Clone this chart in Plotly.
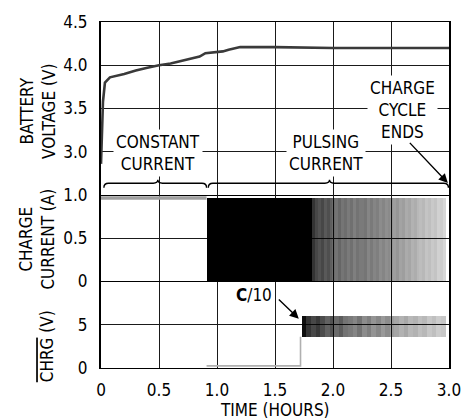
import plotly.graph_objects as go
from plotly.subplots import make_subplots

# ---------------- data ----------------
x_ticks = [0, 0.5, 1.0, 1.5, 2.0, 2.5, 3.0]
x_ticktext = ["0", "0.5", "1.0", "1.5", "2.0", "2.5", "3.0"]
volt_ticks = [3.0, 3.5, 4.0, 4.5]
volt_ticktext = ["3.0", "3.5", "4.0", "4.5"]
curr_ticks = [0, 0.5, 1.0]
curr_ticktext = ["0", "0.5", "1.0"]
chrg_ticks = [0, 5]
chrg_ticktext = ["0", "5"]

# battery voltage (hours, volts)
volt_t = [0, 0.008, 0.017, 0.034, 0.077, 0.2, 0.3, 0.4, 0.5, 0.6, 0.7, 0.8,
          0.85, 0.9, 1.0, 1.05, 1.1, 1.2, 1.5, 2.0, 2.5, 3.0]
volt_v = [2.86, 3.3, 3.58, 3.8, 3.86, 3.9, 3.94, 3.97, 4.0, 4.02, 4.05, 4.08,
          4.10, 4.14, 4.15, 4.16, 4.18, 4.21, 4.21, 4.2, 4.2, 4.2]

# constant current phase
cc_t = [0, 0.91]
cc_i = [0.965, 0.965]

# pulsing current: bin edges (hours) and apparent darkness (duty)
pulse_edges = [0.91, 1.82, 1.845, 1.87, 1.895, 1.92, 1.945, 1.97, 1.995, 2.02,
               2.045, 2.07, 2.095, 2.12, 2.145, 2.17, 2.195, 2.22, 2.245, 2.27,
               2.295, 2.32, 2.345, 2.37, 2.395, 2.42, 2.445, 2.47, 2.495, 2.52,
               2.545, 2.57, 2.595, 2.62, 2.645, 2.67, 2.695, 2.72, 2.745, 2.77,
               2.795, 2.82, 2.845, 2.87, 2.895, 2.92, 2.945, 2.97]
pulse_duty = [1.0,
              0.8, 0.72, 0.68, 0.72, 0.65, 0.69, 0.63,
              0.58, 0.55, 0.6, 0.54, 0.57, 0.52, 0.56, 0.5, 0.55, 0.52,
              0.52, 0.54, 0.48, 0.52, 0.48, 0.5, 0.45, 0.48, 0.44, 0.46,
              0.42, 0.38, 0.41, 0.36, 0.38, 0.33, 0.35, 0.3, 0.32, 0.28,
              0.26, 0.28, 0.23, 0.25, 0.21, 0.23, 0.18, 0.2, 0.16]
pulse_amp = 0.97

# CHRG pin
chrg_low_t = [0.91, 1.72, 1.72]
chrg_low_v = [0.25, 0.25, 3.6]
chrg_edges = [1.73, 1.77, 1.81, 1.85, 1.89, 1.93, 1.97, 2.01, 2.05, 2.09, 2.13,
              2.17, 2.21, 2.25, 2.29, 2.33, 2.37, 2.41, 2.45, 2.49, 2.53, 2.57,
              2.61, 2.65, 2.69, 2.73, 2.77, 2.81, 2.85, 2.89, 2.93, 2.97]
chrg_duty = [0.95,
             0.8, 0.72, 0.78, 0.7,
             0.62, 0.68, 0.58, 0.64, 0.55,
             0.52, 0.48, 0.55, 0.45, 0.5, 0.42, 0.47, 0.4, 0.45, 0.38,
             0.35, 0.3, 0.34, 0.28, 0.3, 0.25, 0.28, 0.22, 0.25, 0.2, 0.22]
chrg_base = 3.6
chrg_top = 6.1

# ---------------- figure ----------------
FONT = "DejaVu Sans Condensed, Liberation Sans Narrow, Roboto, sans-serif"
GRID = "#1a1a1a"

fig = make_subplots(rows=3, cols=1, shared_xaxes=True, vertical_spacing=0,
                    row_heights=[4, 2, 2])

fig.add_trace(go.Scatter(x=volt_t, y=volt_v, mode="lines",
                         line=dict(color="#3a3a3a", width=2.6),
                         hoverinfo="skip"), row=1, col=1)

fig.add_trace(go.Scatter(x=cc_t, y=cc_i, mode="lines",
                         line=dict(color="#a0a0a0", width=3.5),
                         hoverinfo="skip"), row=2, col=1)


def bars(edges, duty, base, height, row):
    centers = [(edges[i] + edges[i + 1]) / 2 for i in range(len(duty))]
    widths = [edges[i + 1] - edges[i] for i in range(len(duty))]
    colors = [f"rgba(0,0,0,{d})" for d in duty]
    fig.add_trace(go.Bar(x=centers, y=[height] * len(duty), base=base,
                         width=widths, marker=dict(color=colors, line=dict(width=0)),
                         hoverinfo="skip"), row=row, col=1)


bars(pulse_edges, pulse_duty, 0, pulse_amp, 2)
fig.add_trace(go.Scatter(x=chrg_low_t, y=chrg_low_v, mode="lines",
                         line=dict(color="#b0b0b0", width=1.6),
                         hoverinfo="skip"), row=3, col=1)
bars(chrg_edges, chrg_duty, chrg_base, chrg_top - chrg_base, 3)

tickfont = dict(family=FONT, size=17, color="black")
for r in (1, 2, 3):
    fig.update_xaxes(range=[0, 3.0], tickvals=x_ticks, ticktext=x_ticktext,
                     showgrid=True, gridcolor=GRID, gridwidth=1,
                     showline=(r != 2), linecolor="black", linewidth=1.3, mirror=True,
                     zeroline=False, ticks="", tickfont=tickfont,
                     ticklabelstandoff=6, row=r, col=1)
fig.update_yaxes(range=[2.5, 4.5], tickvals=volt_ticks, ticktext=volt_ticktext, row=1, col=1)
fig.update_yaxes(range=[0, 1.0], tickvals=curr_ticks, ticktext=curr_ticktext, row=2, col=1)
fig.update_yaxes(range=[0, 10], tickvals=chrg_ticks, ticktext=chrg_ticktext, row=3, col=1)
fig.update_yaxes(showgrid=True, gridcolor=GRID, gridwidth=1, showline=True,
                 linecolor="black", linewidth=2, mirror=True, zeroline=False,
                 ticks="", tickfont=tickfont, ticklabelstandoff=8)

# braces
def brace(x0, x1, xc, ylev=2.636, yend=2.585, ytip=2.675, r=0.04):
    return (f"M {x0},{yend} Q {x0},{ylev} {x0 + r},{ylev} L {xc - r},{ylev} "
            f"Q {xc},{ylev} {xc},{ytip} Q {xc},{ylev} {xc + r},{ylev} "
            f"L {x1 - r},{ylev} Q {x1},{ylev} {x1},{yend}")

shapes = [
    dict(type="path", path=brace(0.025, 0.91, 0.49), xref="x", yref="y",
         line=dict(color="black", width=1.4)),
    dict(type="path", path=brace(0.925, 2.995, 1.97), xref="x", yref="y",
         line=dict(color="black", width=1.4)),
]

afont = dict(family=FONT, size=17, color="black")
annotations = [
    dict(x=0.49, y=2.99, xref="x", yref="y", text="CONSTANT<br>CURRENT",
         showarrow=False, bgcolor="white", font=afont, borderpad=2),
    dict(x=1.94, y=2.99, xref="x", yref="y", text="PULSING<br>CURRENT",
         showarrow=False, bgcolor="white", font=afont, borderpad=2),
    dict(x=2.6, y=3.48, xref="x", yref="y", text="CHARGE<br>CYCLE<br>ENDS",
         showarrow=False, bgcolor="white", font=afont, borderpad=2),
    dict(x=2.99, y=2.64, ax=2.65, ay=3.12, xref="x", yref="y", axref="x", ayref="y",
         text="", showarrow=True, arrowhead=2, arrowsize=1.3, arrowwidth=1.4,
         arrowcolor="black"),
    dict(x=1.32, y=8.4, xref="x3", yref="y3", text="<b>C</b>/10",
         showarrow=False, font=afont),
    dict(x=1.705, y=5.7, ax=1.52, ay=8.1, xref="x3", yref="y3", axref="x3", ayref="y3",
         text="", showarrow=True, arrowhead=2, arrowsize=1.3, arrowwidth=1.4,
         arrowcolor="black"),
    dict(x=-0.183, y=0.741, xref="paper", yref="paper", text="BATTERY<br>VOLTAGE (V)",
         textangle=-90, showarrow=False, font=afont, xanchor="center", yanchor="middle"),
    dict(x=-0.183, y=0.372, xref="paper", yref="paper", text="CHARGE<br>CURRENT (A)",
         textangle=-90, showarrow=False, font=afont, xanchor="center", yanchor="middle"),
    dict(x=-0.156, y=0.062, xref="paper", yref="paper",
         text='<span style="text-decoration:overline">CHRG</span> (V)',
         textangle=-90, showarrow=False, font=afont, xanchor="center", yanchor="middle"),
    dict(x=0.5, y=-0.12, xref="paper", yref="paper", text="TIME (HOURS)",
         showarrow=False, font=afont, xanchor="center", yanchor="middle"),
]

fig.update_layout(width=473, height=419, margin=dict(l=101, r=22, t=16, b=51),
                  paper_bgcolor="white", plot_bgcolor="white", showlegend=False,
                  barmode="overlay", bargap=0, shapes=shapes, annotations=annotations,
                  font=dict(family=FONT, color="black"))

fig.write_html("out.html", config={"displayModeBar": False},
               post_script="document.body.style.margin='0px';document.body.style.overflow='hidden';")
